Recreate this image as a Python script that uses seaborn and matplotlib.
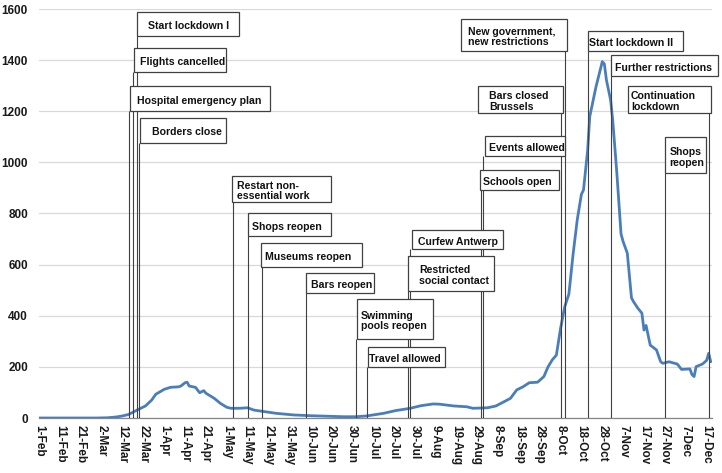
import matplotlib
matplotlib.use('Agg')
import matplotlib.pyplot as plt
import matplotlib.dates as mdates
from matplotlib.patches import Rectangle
import pandas as pd
import seaborn as sns

# ---------------- data ----------------
dates = [
    '2020-02-01', '2020-02-15', '2020-02-29', '2020-03-05', '2020-03-09', '2020-03-12',
    '2020-03-15', '2020-03-19', '2020-03-23', '2020-03-26', '2020-03-28', '2020-04-01',
    '2020-04-04', '2020-04-08', '2020-04-09', '2020-04-11', '2020-04-12', '2020-04-13',
    '2020-04-16', '2020-04-18', '2020-04-20', '2020-04-21', '2020-04-25', '2020-04-28',
    '2020-05-01', '2020-05-03', '2020-05-07', '2020-05-11', '2020-05-14', '2020-05-19',
    '2020-05-25', '2020-06-02', '2020-06-10', '2020-06-18', '2020-06-26', '2020-07-02',
    '2020-07-07', '2020-07-15', '2020-07-21', '2020-07-28', '2020-08-02', '2020-08-08',
    '2020-08-11', '2020-08-18', '2020-08-24', '2020-08-27', '2020-09-03', '2020-09-07',
    '2020-09-11', '2020-09-14', '2020-09-17', '2020-09-20', '2020-09-23', '2020-09-27',
    '2020-09-30', '2020-10-02', '2020-10-04', '2020-10-06', '2020-10-08', '2020-10-10',
    '2020-10-12', '2020-10-14', '2020-10-16', '2020-10-18', '2020-10-19', '2020-10-21',
    '2020-10-22', '2020-10-24', '2020-10-25', '2020-10-27', '2020-10-28', '2020-10-29',
    '2020-10-30', '2020-11-01', '2020-11-02', '2020-11-04', '2020-11-06', '2020-11-07',
    '2020-11-09', '2020-11-11', '2020-11-12', '2020-11-14', '2020-11-16', '2020-11-17',
    '2020-11-18', '2020-11-20', '2020-11-21', '2020-11-23', '2020-11-25', '2020-11-26',
    '2020-11-29', '2020-12-03', '2020-12-05', '2020-12-09', '2020-12-10', '2020-12-11',
    '2020-12-12', '2020-12-15', '2020-12-17', '2020-12-18', '2020-12-19',
]
values = [
    0, 0, 0, 1, 4, 8,
    14, 31, 47, 70, 93, 112,
    120, 122, 125, 138, 140, 125,
    120, 99, 107, 97, 77, 57,
    42, 38, 38, 40, 31, 25,
    18, 12, 9, 7, 5, 5,
    8, 18, 29, 38, 48, 55,
    54, 47, 44, 38, 40, 47,
    64, 77, 110, 122, 138, 140,
    162, 200, 227, 246, 350, 435,
    485, 640, 775, 875, 892, 1048,
    1179, 1257, 1296, 1361, 1394, 1385,
    1322, 1244, 1166, 957, 720, 690,
    645, 470, 455, 430, 410, 344,
    362, 285, 279, 266, 220, 214,
    220, 211, 190, 192, 170, 162,
    201, 211, 225, 253, 220,
]

tick_labels = ['1-Feb', '11-Feb', '21-Feb', '2-Mar', '12-Mar', '22-Mar', '1-Apr', '11-Apr',
               '21-Apr', '1-May', '11-May', '21-May', '31-May', '10-Jun', '20-Jun', '30-Jun',
               '10-Jul', '20-Jul', '30-Jul', '9-Aug', '19-Aug', '29-Aug', '8-Sep', '18-Sep',
               '28-Sep', '8-Oct', '18-Oct', '28-Oct', '7-Nov', '17-Nov', '27-Nov', '7-Dec',
               '17-Dec']

event_labels = [
    'Hospital emergency plan', 'Flights cancelled', 'Start lockdown I', 'Borders close',
    'Restart non-\nessential work', 'Shops reopen', 'Museums reopen', 'Bars reopen',
    'Swimming\npools reopen', 'Travel allowed', 'Restricted\nsocial contact', 'Curfew Antwerp',
    'Schools open', 'Events allowed', 'Bars closed\nBrussels', 'New government,\nnew restrictions',
    'Start lockdown II', 'Further restrictions', 'Continuation\nlockdown', 'Shops\nreopen',
]
event_dates = [
    '2020-03-15', '2020-03-17', '2020-03-19', '2020-03-20',
    '2020-05-04', '2020-05-11', '2020-05-18', '2020-06-08',
    '2020-07-02', '2020-07-07', '2020-07-27', '2020-07-28',
    '2020-08-31', '2020-09-01', '2020-10-08', '2020-10-10',
    '2020-10-21', '2020-11-01', '2020-12-18', '2020-11-27',
]

# ---------------- layout (annotation boxes) ----------------
# (box left offset from event [days], box width [days], box top, box bottom, text inset [days])
box_layout = [
    (0.5, 67.2, 1299, 1201, 3.3),
    (0.6, 44.1, 1447, 1354, 2.8),
    (0.0, 48.9, 1588, 1494, 5.1),
    (0.4, 41.3, 1174, 1076, 5.7),
    (-0.6, 47.6, 947, 845, 2.7),
    (0.4, 39.6, 802, 712, 1.6),
    (-0.5, 48.1, 685, 591, 1.9),
    (0.1, 32.7, 567, 489, 2.2),
    (0.4, 36.4, 466, 309, 2.0),
    (0.5, 37.2, 278, 200, 0.8),
    (0.1, 40.8, 634, 497, 5.2),
    (0.8, 43.4, 735, 661, 3.1),
    (-0.5, 37.9, 970, 892, 1.1),
    (0.6, 38.3, 1103, 1025, 1.9),
    (-39.5, 40.5, 1299, 1193, 5.3),
    (-49.8, 50.9, 1561, 1436, 3.2),
    (0.0, 45.7, 1514, 1436, 0.8),
    (0.2, 51.3, 1420, 1338, 2.1),
    (-38.9, 39.9, 1299, 1193, 1.7),
    (-0.1, 19.9, 1099, 958, 2.3),
]

# ---------------- style ----------------
sns.set_style('white')
plt.rcParams['font.family'] = ['Liberation Sans', 'DejaVu Sans']

fig = plt.figure(figsize=(7.22, 4.73), dpi=100)
ax = fig.add_axes([39 / 722, 1 - 418 / 473, 673 / 722, 409 / 473])

df = pd.DataFrame({'date': pd.to_datetime(dates), 'value': values})
sns.lineplot(data=df, x='date', y='value', ax=ax, color='#4a7ebb', linewidth=2.0, zorder=3)

# axes limits / ticks
x_start = mdates.date2num(df['date'].iloc[0])
x_end = mdates.date2num(df['date'].iloc[-1]) + 0.6
ax.set_xlim(x_start, x_end)
ax.set_ylim(0, 1600)
ax.set_yticks(range(0, 1601, 200))
ax.set_yticklabels([str(v) for v in range(0, 1601, 200)], fontsize=8.5, fontweight='bold', color='#1a1a1a')

tick_pos = pd.to_datetime([t + '-2020' for t in tick_labels], format='%d-%b-%Y')
ax.set_xticks(mdates.date2num(tick_pos))
ax.set_xticklabels(tick_labels, rotation=-90, fontsize=8.5, fontweight='bold', color='#1a1a1a')

ax.tick_params(axis='x', direction='inout', length=6, width=0.8, color='#868686', pad=2)
ax.tick_params(axis='y', length=0, pad=8)
ax.set_xlabel('')
ax.set_ylabel('')

for s in ['top', 'right', 'left']:
    ax.spines[s].set_visible(False)
ax.spines['bottom'].set_color('#868686')
ax.spines['bottom'].set_linewidth(0.9)
ax.yaxis.grid(True, color='#d9d9d9', linewidth=0.9)
ax.xaxis.grid(False)
ax.set_axisbelow(True)

# ---------------- annotations ----------------
for label, d, (dx, w, top, bot, inset) in zip(event_labels, event_dates, box_layout):
    xe = mdates.date2num(pd.Timestamp(d))
    ax.vlines(xe, 0, bot, color='#404040', linewidth=0.8, zorder=4)
    x0 = xe + dx
    ax.add_patch(Rectangle((x0, bot), w, top - bot, facecolor='white', edgecolor='#404040',
                           linewidth=0.9, zorder=5, clip_on=False))
    ax.text(x0 + inset, (top + bot) / 2 - 8, label, ha='left', va='center', fontsize=7.6,
            fontweight='bold', color='#111111', linespacing=1.1, zorder=6, clip_on=False)

fig.savefig('out.png', dpi=100)
